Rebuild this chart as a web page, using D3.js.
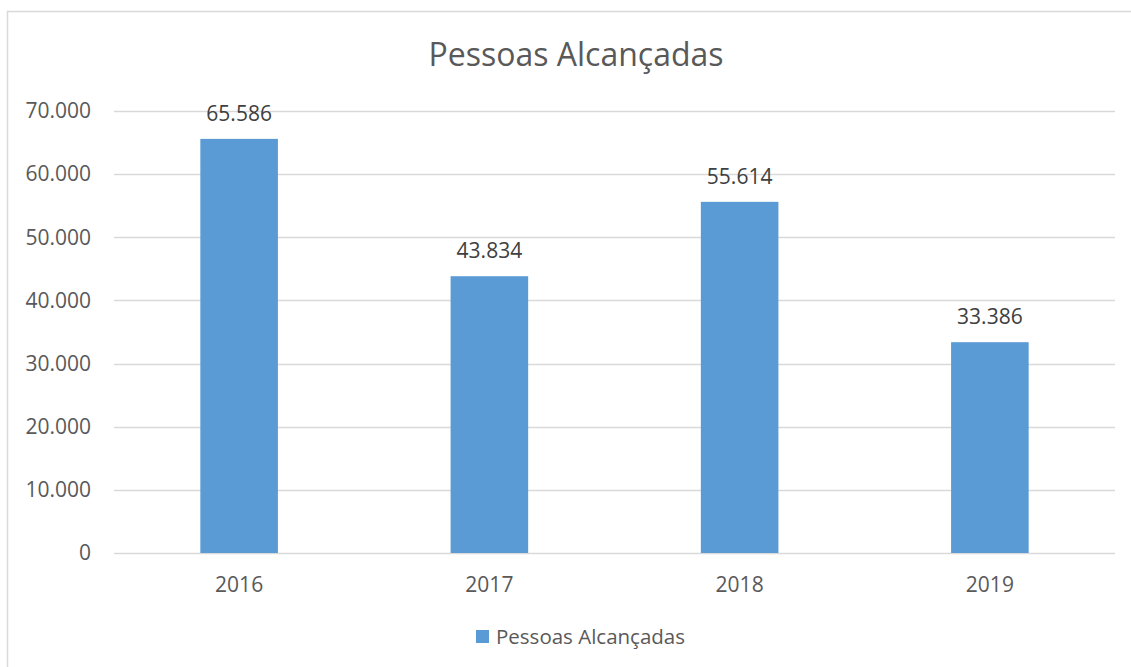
<!DOCTYPE html>
<html>
<head>
<meta charset="utf-8">
<script src="https://cdn.jsdelivr.net/npm/d3@7"></script>
<style>
  html, body { margin: 0; background: #fff; overflow: hidden; }
  svg { display: block; font-family: "Open Sans", "Noto Sans", sans-serif; }
</style>
</head>
<body>
<svg id="chart"></svg>
<script>
// chart data
const years = ["2016", "2017", "2018", "2019"];
const values = [65586, 43834, 55614, 33386];
const yTicks = [0, 10000, 20000, 30000, 40000, 50000, 60000, 70000];
const seriesName = "Pessoas Alcançadas";
const chartTitle = "Pessoas Alcançadas";

const width = 1131, height = 667;
const margins = { top: 111, left: 114, right: 16, bottom: 114 }; // plot area 114..1115, 111..553

const svg = d3.select("#chart").attr("width", width).attr("height", height);

// outer chart border, only the top and left edges are inside the picture
svg.append("path")
  .attr("d", `M7.5,${height} V11.5 H${width}`)
  .attr("fill", "none")
  .attr("stroke", "#d9d9d9")
  .attr("stroke-width", 1.5);

const x = d3.scaleBand()
  .domain(years)
  .range([margins.left, width - margins.right])
  .paddingInner(0.69)
  .paddingOuter(0.345);

const y = d3.scaleLinear()
  .domain([0, 70000])
  .range([height - margins.bottom, margins.top]);

const fmt = v => d3.format(",")(v).replace(/,/g, "."); //thousand separator as a dot

// gridlines
svg.append("g")
  .selectAll("line")
  .data(yTicks)
  .join("line")
  .attr("x1", margins.left)
  .attr("x2", width - margins.right)
  .attr("y1", d => Math.round(y(d)) + 0.5)
  .attr("y2", d => Math.round(y(d)) + 0.5)
  .attr("stroke", "#d9d9d9")
  .attr("stroke-width", 1.5);

// y axis labels
const yAxis = svg.append("g")
  .attr("transform", `translate(${margins.left - 23},0)`)
  .call(d3.axisLeft(y).tickValues(yTicks).tickSize(0).tickPadding(0).tickFormat(fmt));
yAxis.select(".domain").remove();
yAxis.selectAll("text")
  .attr("font-size", 21)
  .attr("fill", "#595959")
  .attr("font-family", "Open Sans, sans-serif");

const rows = years.map((yr, i) => ({ yr, v: values[i] }));

// bars
svg.append("g")
  .selectAll("rect")
  .data(rows)
  .join("rect")
  .attr("x", d => x(d.yr))
  .attr("y", d => y(d.v))
  .attr("width", x.bandwidth())
  .attr("height", d => y(0) - y(d.v))
  .attr("fill", "#5b9bd5");

// value labels above bars
svg.append("g")
  .selectAll("text")
  .data(rows)
  .join("text")
  .attr("x", d => x(d.yr) + x.bandwidth() / 2)
  .attr("y", d => y(d.v) - 18)
  .attr("text-anchor", "middle")
  .attr("font-size", 21)
  .attr("fill", "#404040")
  .text(d => fmt(d.v));

// x axis labels
const xAxis = svg.append("g")
  .attr("transform", `translate(0,${height - margins.bottom})`)
  .call(d3.axisBottom(x).tickSize(0).tickPadding(24));
xAxis.select(".domain").remove();
xAxis.selectAll("text")
  .attr("font-size", 21)
  .attr("fill", "#595959")
  .attr("font-family", "Open Sans, sans-serif");

// title
svg.append("text")
  .attr("x", 576)
  .attr("y", 66)
  .attr("text-anchor", "middle")
  .attr("font-size", 32)
  .attr("fill", "#595959")
  .text(chartTitle);

// legend
const legend = svg.append("g").attr("transform", "translate(476,630)");
legend.append("rect")
  .attr("width", 13).attr("height", 13)
  .attr("fill", "#5b9bd5");
legend.append("text")
  .attr("x", 20)
  .attr("y", 14)
  .attr("font-size", 20.5)
  .attr("fill", "#595959")
  .text(seriesName);
</script>
</body>
</html>
